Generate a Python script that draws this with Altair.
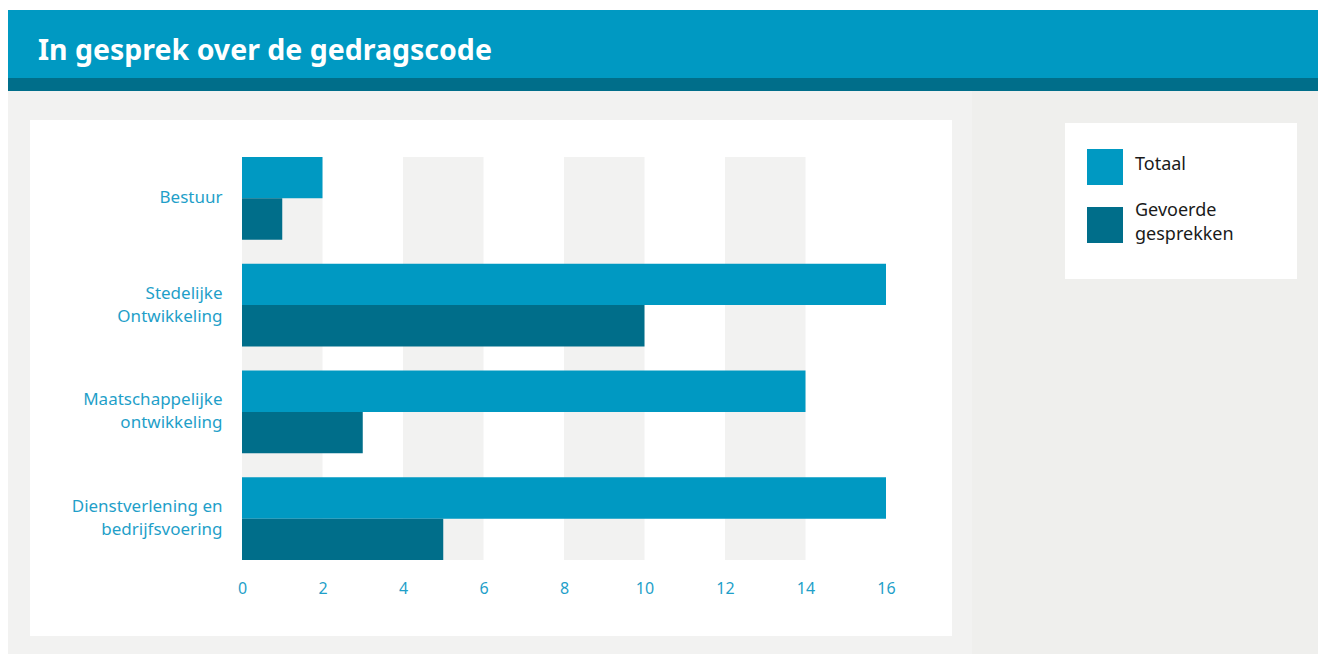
import altair as alt
import pandas as pd

TITLE = "In gesprek over de gedragscode"
CATEGORIES = ["Bestuur", "Stedelijke Ontwikkeling", "Maatschappelijke ontwikkeling",
              "Dienstverlening en bedrijfsvoering"]
CATEGORY_LINES = [["Bestuur"], ["Stedelijke", "Ontwikkeling"], ["Maatschappelijke", "ontwikkeling"],
                  ["Dienstverlening en", "bedrijfsvoering"]]
SERIES = ["Totaal", "Gevoerde gesprekken"]
SERIES_LINES = [["Totaal"], ["Gevoerde", "gesprekken"]]
TOTAAL = [2, 16, 14, 16]
GEVOERD = [1, 10, 3, 5]
X_TICKS = [0, 2, 4, 6, 8, 10, 12, 14, 16]
STRIPE_START = [0, 4, 8, 12]
STRIPE_END = [2, 6, 10, 14]

BLUE = "#0099c2"
DARK = "#006e8a"
LABEL_BLUE = "#1f9fc9"
FONT = "Noto Sans"

W, H = 644, 403
LINE_H = 23

rows = []
for c, t, g in zip(CATEGORIES, TOTAAL, GEVOERD):
    rows.append({"category": c, "series": SERIES[0], "value": t})
    rows.append({"category": c, "series": SERIES[1], "value": g})
bars_df = pd.DataFrame(rows)
stripes_df = pd.DataFrame({"start": STRIPE_START, "end": STRIPE_END})
one = pd.DataFrame({"a": [0]})


def ternary(cats, lines):
    expr = "datum.label"
    for c, l in reversed(list(zip(cats, lines))):
        arr = "[" + ",".join("'" + s + "'" for s in l) + "]"
        expr = f"datum.label == '{c}' ? {arr} : ({expr})"
    return expr


multi = [c for c, l in zip(CATEGORIES, CATEGORY_LINES) if len(l) > 1]
multi_test = "indexof([" + ",".join("'" + c + "'" for c in multi) + "], datum.value) >= 0"


def box(x1, x2, y1, y2, color):
    return alt.Chart(one).mark_rect(color=color).encode(
        x=alt.value(x1), x2=alt.value(x2), y=alt.value(y1), y2=alt.value(y2))


decor = [
    box(-234, 1076, -147, -79, BLUE),
    box(-234, 1076, -79, -66, DARK),
    box(-234, 730, -66, 497, "#f2f2f1"),
    box(730, 1076, -66, 497, "#efefed"),
    box(-212, 710, -37, 479, "#ffffff"),
    box(823, 1055, -34, 122, "#ffffff"),
]

title = alt.Chart(one).mark_text(
    text=TITLE, font=FONT, fontSize=28.5, fontWeight="bold", color="#ffffff",
    align="left", baseline="alphabetic").encode(x=alt.value(-204), y=alt.value(-97))

# legend (drawn by hand inside its white box)
legend_layers = []
SWATCH_TOP = [-8, 50]
for i, (s, lines, col) in enumerate(zip(SERIES, SERIES_LINES, [BLUE, DARK])):
    top = SWATCH_TOP[i]
    legend_layers.append(box(845, 881, top, top + 36, col))
    legend_layers.append(
        alt.Chart(one).mark_text(text=lines, font=FONT, fontSize=18, color="#1a1a1a",
                                 align="left", baseline="middle", lineHeight=24)
        .encode(x=alt.value(893), y=alt.value(top + 16 if len(lines) == 1 else top + 4)))

stripes = alt.Chart(stripes_df).mark_rect(color="#f2f2f1").encode(
    x=alt.X("start:Q"), x2="end:Q", y=alt.value(0), y2=alt.value(H))

bars = alt.Chart(bars_df).mark_bar().encode(
    x=alt.X("value:Q", scale=alt.Scale(domain=[0, 16], nice=False),
            axis=alt.Axis(values=X_TICKS, title=None, grid=False, ticks=False, domain=False,
                          labelFontSize=16, labelColor=LABEL_BLUE, labelFont=FONT,
                          labelPadding=20, labelBaseline="top", labelFlush=False, zindex=1)),
    y=alt.Y("category:N", sort=CATEGORIES,
            scale=alt.Scale(domain=CATEGORIES, paddingInner=0.225, paddingOuter=0),
            axis=alt.Axis(title=None, ticks=False, domain=False, labelFontSize=17,
                          labelColor=LABEL_BLUE, labelFont=FONT, labelPadding=20,
                          labelLineHeight=LINE_H, labelLimit=300, zindex=1,
                          labelOffset={"condition": {"test": multi_test, "value": -LINE_H / 2},
                                       "value": 0},
                          labelExpr=ternary(CATEGORIES, CATEGORY_LINES))),
    yOffset=alt.YOffset("series:N", sort=SERIES,
                        scale=alt.Scale(domain=SERIES, paddingInner=0, paddingOuter=0)),
    color=alt.Color("series:N", sort=SERIES,
                    scale=alt.Scale(domain=SERIES, range=[BLUE, DARK]), legend=None),
)

chart = alt.layer(*decor, title, *legend_layers, stripes, bars).properties(
    width=W, height=H,
    autosize=alt.AutoSizeParams(type="none"),
    padding={"left": 234, "top": 149, "right": 432, "bottom": 94},
    background="#ffffff",
).configure_view(stroke=None)

chart.save("out.html", embed_options={"renderer": "svg", "actions": False})
